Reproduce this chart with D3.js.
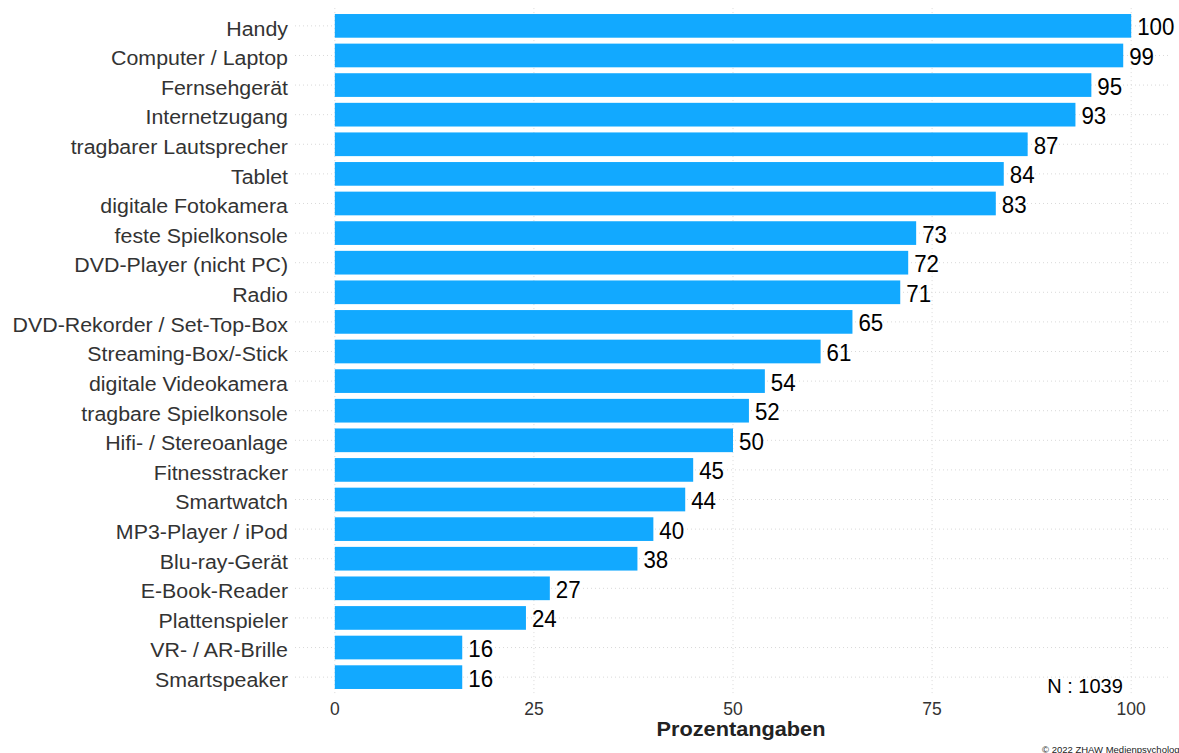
<!DOCTYPE html>
<html><head><meta charset="utf-8">
<script src="https://cdn.jsdelivr.net/npm/d3@7"></script>
<style>body{margin:0;background:#fff}svg{display:block}text{font-family:"Liberation Sans",Arial,sans-serif}</style>
</head><body><svg id="c" width="1179" height="753"></svg>
<script>
const categories = ["Handy","Computer / Laptop","Fernsehgerät","Internetzugang","tragbarer Lautsprecher","Tablet","digitale Fotokamera","feste Spielkonsole","DVD-Player (nicht PC)","Radio","DVD-Rekorder / Set-Top-Box","Streaming-Box/-Stick","digitale Videokamera","tragbare Spielkonsole","Hifi- / Stereoanlage","Fitnesstracker","Smartwatch","MP3-Player / iPod","Blu-ray-Gerät","E-Book-Reader","Plattenspieler","VR- / AR-Brille","Smartspeaker"];
const values = [100,99,95,93,87,84,83,73,72,71,65,61,54,52,50,45,44,40,38,27,24,16,16];
const xTicks = [0,25,50,75,100];
const xTitle = "Prozentangaben";
const nLabel = "N : 1039";
const copyright = "© 2022 ZHAW Medienpsychologie";

const svg = d3.select("#c");
const panel = {left:295, right:1171, top:8.1, bottom:694.9};
const x = d3.scaleLinear().domain([-5,105]).range([panel.left, panel.right]);
const y = d3.scalePoint().domain(categories).range([panel.top, panel.bottom]).padding(0.6);
const step = y.step();
const yc = d => y(d);
const bh = step*0.8;

const grid = svg.append("g");
grid.selectAll("line.v").data(xTicks).join("line")
  .attr("x1", d=>x(d)).attr("x2", d=>x(d)).attr("y1", panel.top).attr("y2", panel.bottom)
  .attr("stroke","#d9d9d9").attr("stroke-width",1).attr("stroke-dasharray","1,3");
grid.selectAll("line.h").data(categories).join("line")
  .attr("x1", panel.left).attr("x2", panel.right).attr("y1", d=>yc(d)).attr("y2", d=>yc(d))
  .attr("stroke","#d9d9d9").attr("stroke-width",1).attr("stroke-dasharray","1,3");

svg.append("g").selectAll("rect").data(categories).join("rect")
  .attr("x", x(0)).attr("y", d=>yc(d)-bh/2)
  .attr("width", (d,i)=>x(values[i])-x(0)).attr("height", bh)
  .attr("fill","#12a9ff");

svg.append("g").selectAll("text").data(categories).join("text")
  .attr("transform", (d,i)=>`translate(${x(values[i])+6},${yc(d)+9.5}) scale(0.93,1)`)
  .attr("font-size",24).attr("fill","#000").text((d,i)=>values[i]);

svg.append("g").selectAll("text").data(categories).join("text")
  .attr("transform", d=>`translate(288,${yc(d)+9.8}) scale(1.09,1)`)
  .attr("text-anchor","end")
  .attr("font-size",19.6).attr("fill","#333").text(d=>d);

svg.append("g").selectAll("text").data(xTicks).join("text")
  .attr("x", d=>x(d)).attr("y", 715).attr("text-anchor","middle")
  .attr("font-size",17.5).attr("fill","#333").text(d=>d);

svg.append("text").attr("transform", `translate(741,736) scale(1.06,1)`).attr("text-anchor","middle")
  .attr("font-size",20.5).attr("font-weight","bold").attr("fill","#222").text(xTitle);

svg.append("text").attr("x", 1085).attr("y", 693).attr("text-anchor","middle")
  .attr("font-size",20).attr("fill","#000").text(nLabel);

svg.append("text").attr("x", 1042).attr("y", 752.5)
  .attr("font-size",9.5).attr("fill","#222").text(copyright);
</script></body></html>
